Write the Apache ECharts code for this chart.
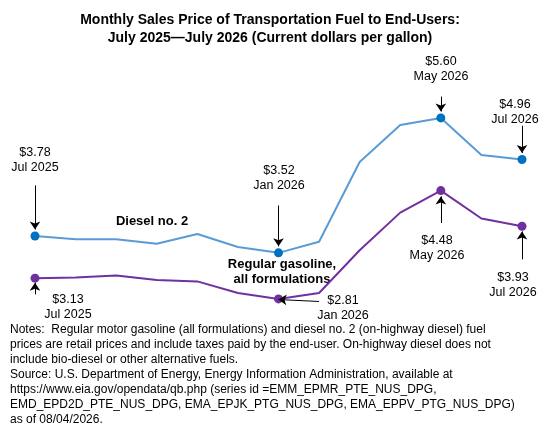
<!DOCTYPE html>
<html>
<head>
<meta charset="utf-8">
<script src="https://cdn.jsdelivr.net/npm/echarts@6/dist/echarts.min.js"></script>
<style>html,body{margin:0;padding:0;background:#fff}#c{width:540px;height:435px}</style>
</head>
<body>
<div id="c"></div>
<script>
// 月份（2025年7月至2026年7月）
const months = ['Jul 2025','Aug 2025','Sep 2025','Oct 2025','Nov 2025','Dec 2025','Jan 2026','Feb 2026','Mar 2026','Apr 2026','May 2026','Jun 2026','Jul 2026'];
const diesel = [3.78,3.73,3.73,3.66,3.81,3.61,3.52,3.69,4.92,5.49,5.60,5.03,4.96];
const gasoline = [3.13,3.14,3.17,3.10,3.08,2.90,2.81,2.90,3.56,4.14,4.48,4.05,3.93];
// 标注的点下标
const dieselMarked = [0,6,10,12];
const gasMarked = [0,6,10,12];

const chart = echarts.init(document.getElementById('c'));
const font = 'Liberation Sans, Arial, sans-serif';

// 箭头：[起点, 终点]，坐标为 [类目下标, 值]
function arrow(from, to) {
    return [{coord: from}, {coord: to}];
}
const arrowLine = {
    silent: true,
    symbol: ['none', 'arrow'],
    symbolSize: 8,
    label: {show: false},
    lineStyle: {color: '#000', width: 1, type: 'solid'}
};

// x 为文字中心
function txt(x, y, text, bold) {
    return {
        type: 'text', x: x, y: y,
        style: {text: text, font: (bold ? 'bold 13px ' : '12.5px ') + font, fill: '#000', textAlign: 'center', textVerticalAlign: 'top', lineHeight: 15}
    };
}

chart.setOption({
    animation: false,
    title: {
        text: 'Monthly Sales Price of Transportation Fuel to End-Users:\nJuly 2025\u2014July 2026 (Current dollars per gallon)',
        left: 'center', top: 6,
        textStyle: {fontFamily: font, fontSize: 14, fontWeight: 'bold', lineHeight: 18, color: '#000'}
    },
    grid: {left: 35, right: 18, top: 92, bottom: 116},
    xAxis: {type: 'category', data: months, boundaryGap: false, show: false},
    yAxis: {type: 'value', min: 2.5, max: 6.0, show: false},
    series: [
        {
            name: 'Diesel no. 2', type: 'line', data: diesel,
            lineStyle: {color: '#5b9bd5', width: 2},
            itemStyle: {color: '#0070c0'},
            symbol: 'circle', symbolSize: (v, p) => dieselMarked.includes(p.dataIndex) ? 9 : 0,
            markLine: Object.assign({}, arrowLine, {data: [
                arrow([0, 4.56], [0, 3.88]),
                arrow([6, 4.25], [6, 3.62]),
                arrow([10, 5.93], [10, 5.70]),
                arrow([12, 5.48], [12, 5.06])
            ]})
        },
        {
            name: 'Regular gasoline', type: 'line', data: gasoline,
            lineStyle: {color: '#7030a0', width: 2},
            itemStyle: {color: '#7030a0'},
            symbol: 'circle', symbolSize: (v, p) => gasMarked.includes(p.dataIndex) ? 9 : 0,
            markLine: Object.assign({}, arrowLine, {data: [
                arrow([0.4, 2.88], [0.08, 3.06]),
                arrow([6.9, 2.77], [6.2, 2.80]),
                arrow([10, 3.98], [9.95, 4.39]),
                arrow([12, 3.42], [11.9, 3.85])
            ]})
        }
    ],
    graphic: [
        txt(35, 145, '$3.78\nJul 2025'),
        txt(68, 292, '$3.13\nJul 2025'),
        txt(152, 214, 'Diesel no. 2', true),
        txt(279, 163, '$3.52\nJan 2026'),
        txt(282, 257, 'Regular gasoline,\nall formulations', true),
        txt(343, 293, '$2.81\nJan 2026'),
        txt(441, 54, '$5.60\nMay 2026'),
        txt(515, 97, '$4.96\nJul 2026'),
        txt(437, 233, '$4.48\nMay 2026'),
        txt(513, 270, '$3.93\nJul 2026'),
        {
            type: 'text', left: 10, top: 322,
            style: {
                text: 'Notes:  Regular motor gasoline (all formulations) and diesel no. 2 (on-highway diesel) fuel\nprices are retail prices and include taxes paid by the end-user. On-highway diesel does not\ninclude bio-diesel or other alternative fuels.\nSource: U.S. Department of Energy, Energy Information Administration, available at\nhttps://www.eia.gov/opendata/qb.php (series id =EMM_EPMR_PTE_NUS_DPG,\nEMD_EPD2D_PTE_NUS_DPG, EMA_EPJK_PTG_NUS_DPG, EMA_EPPV_PTG_NUS_DPG)\nas of 08/04/2026.',
                font: '12px ' + font, fill: '#000', lineHeight: 15
            }
        }
    ]
});
</script>
</body>
</html>
